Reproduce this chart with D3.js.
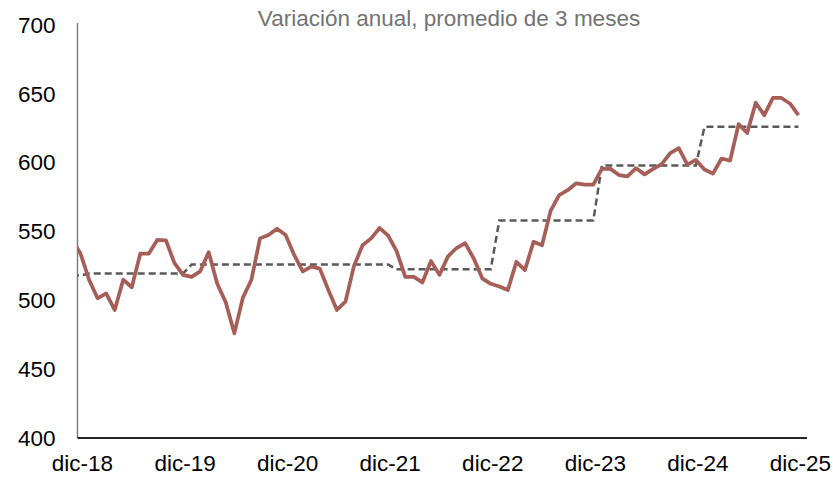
<!DOCTYPE html>
<html>
<head>
<meta charset="utf-8">
<script src="https://cdn.jsdelivr.net/npm/d3@7"></script>
<style>
  html, body { margin: 0; padding: 0; background: #fff; }
  svg { display: block; font-family: "Liberation Sans", Arial, sans-serif; }
</style>
</head>
<body>
<div id="chart"></div>
<script>
// monthly series, nov-18 .. dic-25 (first point falls left of the axis and is clipped)
const firstMonth = -1; // index of nov-18 relative to dic-18
const monthly = [
  544, 534, 515, 501.5, 505, 493, 515, 509.5, 534, 534, 544, 543.5, 527,
  518.5, 517, 521, 535, 512, 498.5, 476, 502, 515, 545, 547.5, 552,
  547.5, 533, 521, 524.5, 523, 507.5, 493, 499, 525, 540, 545, 552.5,
  547, 535.5, 517, 517, 513, 528.5, 518.5, 532, 538, 541.5, 530.5, 516,
  512, 510, 507.5, 528, 522, 542.5, 540, 565, 576.5, 580, 585, 584,
  584, 595.5, 595.5, 591, 590, 596, 591.5, 595.5, 599, 607, 610.5, 598.5,
  602, 595, 592, 603, 601.5, 628, 621.5, 643.5, 634.5, 647, 647, 643, 634.5
];

// annual averages (dashed step line)
const years = [2018, 2019, 2020, 2021, 2022, 2023, 2024, 2025];
const annualAvg = [518, 519.5, 526, 526, 522.5, 558, 598, 626];

const tickMonths = [0, 12, 24, 36, 48, 60, 72, 84];
const tickLabels = ['dic-18', 'dic-19', 'dic-20', 'dic-21', 'dic-22', 'dic-23', 'dic-24', 'dic-25'];
const yTicks = [400, 450, 500, 550, 600, 650, 700];

const subtitle = 'Variación anual, promedio de 3 meses';

const width = 833, height = 478;
const margin = { left: 77.5, right: 26, top: 25, bottom: 40 };
const fontSize = 22.5;

const svg = d3.select('#chart')
  .append('svg')
  .attr('width', width)
  .attr('height', height);

const x = d3.scaleLinear()
  .domain([-0.35, 85])
  .range([margin.left, width - margin.right]);

const y = d3.scaleLinear()
  .domain([400, 700])
  .range([height - margin.bottom, margin.top]);

// month index -> calendar year (month 0 = dic-18)
const yearOf = m => 2019 + Math.floor((m - 1) / 12);

const redData = monthly.map((v, i) => ({ m: firstMonth + i, v: v }));
const stepData = redData.map(d => ({ m: d.m, v: annualAvg[years.indexOf(yearOf(d.m))] }));

svg.append('clipPath')
  .attr('id', 'plot-clip')
  .append('rect')
  .attr('x', x(-0.35))
  .attr('y', 0)
  .attr('width', x(85) - x(-0.35))
  .attr('height', height);

// subtitle
svg.append('text')
  .attr('x', 449)
  .attr('y', 26)
  .attr('text-anchor', 'middle')
  .attr('font-size', fontSize)
  .attr('fill', '#737373')
  .text(subtitle);

// y axis labels
const yAxis = d3.axisLeft(y).tickValues(yTicks).tickSize(0).tickPadding(22);
const gy = svg.append('g')
  .attr('transform', `translate(${margin.left},0)`)
  .call(yAxis);
gy.select('.domain').remove();
gy.selectAll('text')
  .attr('font-size', fontSize)
  .attr('font-family', '"Liberation Sans", Arial, sans-serif')
  .attr('fill', '#000');

// x axis labels
const xAxis = d3.axisBottom(x).tickValues(tickMonths).tickSize(0).tickPadding(17)
  .tickFormat((d, i) => tickLabels[i]);
const gx = svg.append('g')
  .attr('transform', `translate(1.5,${y(400)})`)
  .call(xAxis);
gx.select('.domain').remove();
gx.selectAll('text')
  .attr('font-size', fontSize)
  .attr('font-family', '"Liberation Sans", Arial, sans-serif')
  .attr('fill', '#000');

// axis lines
svg.append('line')
  .attr('x1', margin.left).attr('x2', margin.left)
  .attr('y1', y(700) - 2).attr('y2', y(400))
  .attr('stroke', '#7f7f7f')
  .attr('stroke-width', 1.5);
svg.append('line')
  .attr('x1', margin.left).attr('x2', x(85))
  .attr('y1', y(400)).attr('y2', y(400))
  .attr('stroke', '#262626')
  .attr('stroke-width', 2);

const line = d3.line()
  .x(d => x(d.m))
  .y(d => y(d.v));

svg.append('path')
  .datum(stepData)
  .attr('d', line)
  .attr('fill', 'none')
  .attr('stroke', '#595959')
  .attr('stroke-width', 2.5)
  .attr('stroke-dasharray', '7,4')
  .attr('clip-path', 'url(#plot-clip)');

svg.append('path')
  .datum(redData)
  .attr('d', line)
  .attr('fill', 'none')
  .attr('stroke', '#a65f58')
  .attr('stroke-width', 3.75)
  .attr('stroke-linejoin', 'round')
  .attr('clip-path', 'url(#plot-clip)');
</script>
</body>
</html>
